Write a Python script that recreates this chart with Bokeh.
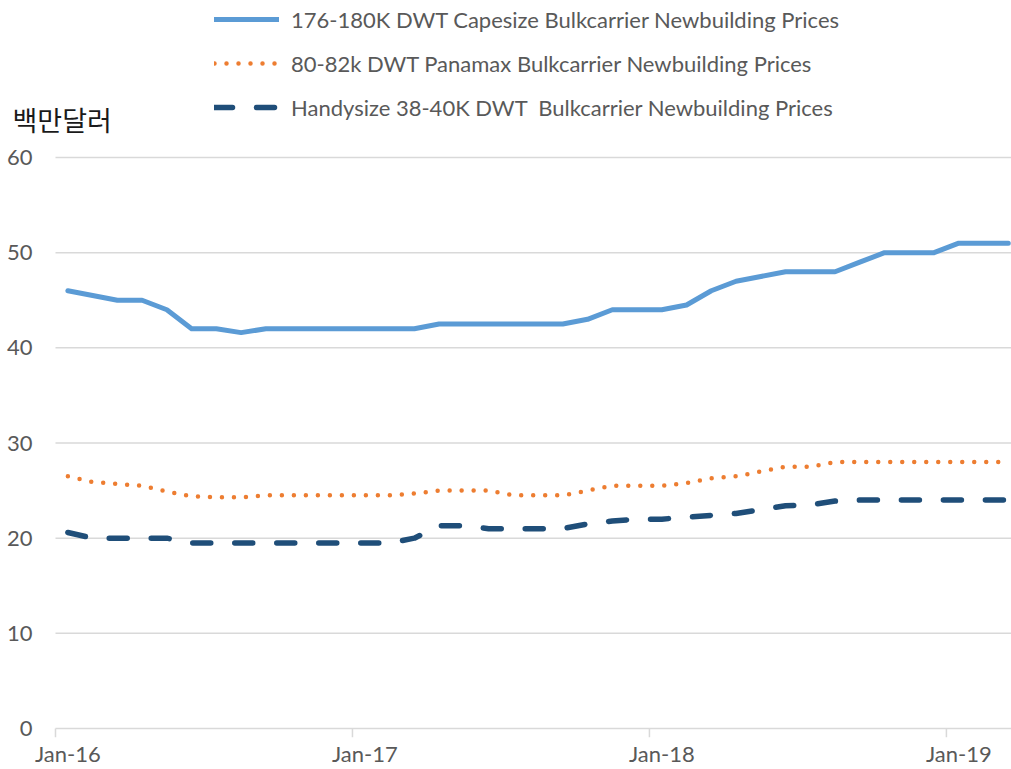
from bokeh.plotting import figure
from bokeh.models import Range1d, FixedTicker, Legend, LegendItem, Label, ColumnDataSource
from bokeh.core.properties import value
from bokeh.embed import file_html
from bokeh.resources import INLINE

# ---- data ----
month_names = ["Jan", "Feb", "Mar", "Apr", "May", "Jun", "Jul", "Aug", "Sep", "Oct", "Nov", "Dec"]
years = ["16", "17", "18", "19"]
months = [f"{m}-{y}" for y in years for m in month_names][:39]   # Jan-16 .. Mar-19

capesize = [46, 45.5, 45, 45, 44, 42, 42, 41.6, 42, 42, 42, 42, 42, 42, 42,
            42.5, 42.5, 42.5, 42.5, 42.5, 42.5, 43, 44, 44, 44, 44.5, 46, 47,
            47.5, 48, 48, 48, 49, 50, 50, 50, 51, 51, 51]
panamax = [26.5, 25.9, 25.7, 25.5, 24.9, 24.4, 24.3, 24.3, 24.5, 24.5, 24.5,
           24.5, 24.5, 24.5, 24.7, 25, 25, 25, 24.5, 24.5, 24.5, 25, 25.5, 25.5,
           25.5, 25.8, 26.3, 26.5, 27, 27.5, 27.5, 28, 28, 28, 28, 28, 28, 28, 28]
handysize = [20.6, 20, 20, 20, 20, 19.5, 19.5, 19.5, 19.5, 19.5, 19.5, 19.5,
             19.5, 19.5, 20, 21.3, 21.3, 21, 21, 21, 21, 21.5, 21.8, 22, 22,
             22.2, 22.4, 22.6, 23, 23.4, 23.5, 23.9, 24, 24, 24, 24, 24, 24, 24]

series_names = ["176-180K DWT Capesize Bulkcarrier Newbuilding Prices",
                "80-82k DWT Panamax Bulkcarrier Newbuilding Prices",
                "Handysize 38-40K DWT  Bulkcarrier Newbuilding Prices"]
tick_labels = ["Jan-16", "Jan-17", "Jan-18", "Jan-19"]
y_ticks = [0, 10, 20, 30, 40, 50, 60]
unit_label = "백만달러"

GRID = "#D9D9D9"
TXT = "#595959"
FONT = "Lato"

# ---- build ----
n = len(months)
x = [i + 0.5 for i in range(n)]   # points centred inside their month
src = ColumnDataSource(dict(x=x, cape=capesize, pana=panamax, handy=handysize))

X_START, X_END = -2.222, 38.63
Y_START, Y_END = -0.946, 76.5
p = figure(width=1011, height=769, output_backend="svg", toolbar_location=None,
           x_range=Range1d(X_START, X_END), y_range=Range1d(Y_START, Y_END),
           y_axis_type=None,
           min_border_left=0, min_border_right=0, min_border_top=0, min_border_bottom=32)
p.outline_line_color = None
p.background_fill_color = "white"
p.border_fill_color = "white"
p.xgrid.grid_line_color = None

# horizontal grid lines (start at the first month, like the plot area)
gsrc = ColumnDataSource(dict(y=y_ticks, x0=[0] * len(y_ticks), x1=[X_END] * len(y_ticks),
                             lab=[str(v) for v in y_ticks]))
p.segment(x0="x0", y0="y", x1="x1", y1="y", source=gsrc, line_color=GRID, line_width=1.5)
# value labels of the vertical axis
p.text(x="x0", y="y", text="lab", source=gsrc, x_offset=-23, text_align="right",
       text_baseline="middle", text_font=value(FONT), text_font_size="22px", text_color=TXT)

# year tick marks on the category boundaries
tick_pos = [months.index(t) for t in tick_labels]
tsrc = ColumnDataSource(dict(x=tick_pos, y0=[0] * len(tick_pos), y1=[Y_START] * len(tick_pos)))
p.segment(x0="x", y0="y0", x1="x", y1="y1", source=tsrc, line_color=GRID, line_width=1.5)

r1 = p.line("x", "cape", source=src, line_color="#5B9BD5", line_width=5,
            line_join="round", line_cap="round")
r2 = p.line("x", "pana", source=src, line_color="#ED7D31", line_width=4.5,
            line_dash="0 12", line_cap="round", line_join="round")
r3 = p.line("x", "handy", source=src, line_color="#1F4E79", line_width=5.5,
            line_dash="18 24", line_cap="round", line_join="round")

# x axis: labels centred in their month
label_pos = [t + 0.5 for t in tick_pos]
p.xaxis.ticker = FixedTicker(ticks=label_pos)
p.xaxis.major_label_overrides = {t: l for t, l in zip(label_pos, tick_labels)}
p.xaxis.axis_line_color = None
p.xaxis.major_tick_line_color = None
p.xaxis.major_tick_in = 0
p.xaxis.major_tick_out = 0
p.xaxis.minor_tick_line_color = None
p.xaxis.major_label_standoff = 2
p.xaxis.major_label_text_font = FONT
p.xaxis.major_label_text_font_size = "22px"
p.xaxis.major_label_text_color = TXT

# unit label
p.add_layout(Label(x=12, y=618, x_units="screen", y_units="screen", text=unit_label,
                   text_font="Noto Sans CJK KR", text_font_size="27px",
                   text_color="#1a1a1a", text_baseline="middle", text_align="left"))

legend = Legend(items=[LegendItem(label=series_names[0], renderers=[r1]),
                       LegendItem(label=series_names[1], renderers=[r2]),
                       LegendItem(label=series_names[2], renderers=[r3])],
                location=(214, 615), glyph_width=65, glyph_height=30, label_height=30,
                label_standoff=12, spacing=14, padding=0, margin=0,
                border_line_color=None, background_fill_alpha=0,
                label_text_font=FONT, label_text_font_size="22px",
                label_text_color=TXT)
p.add_layout(legend)

open("out.html", "w").write(file_html(p, INLINE))
